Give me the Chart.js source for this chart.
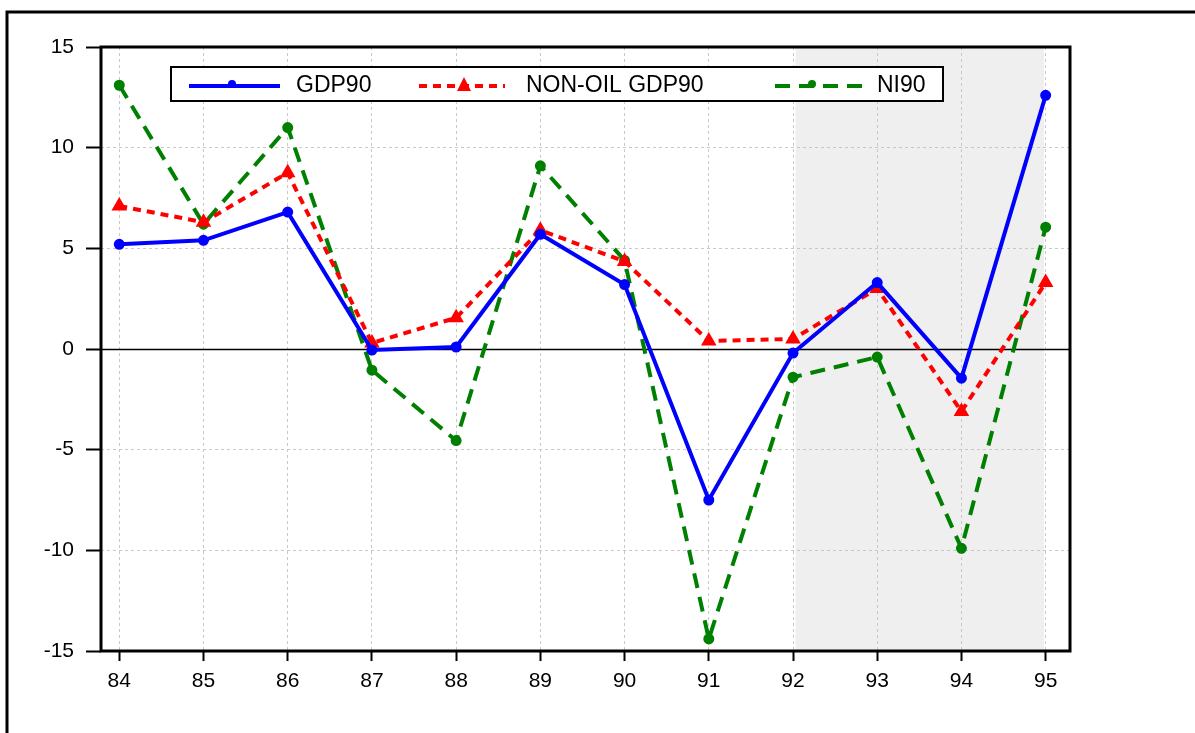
<!DOCTYPE html>
<html>
<head>
<meta charset="utf-8">
<script src="https://cdn.jsdelivr.net/npm/chart.js@4.4.0/dist/chart.umd.min.js"></script>
<style>
  html, body { margin: 0; padding: 0; background: #fff; }
  canvas { display: block; }
</style>
</head>
<body>
<canvas id="chart" width="1195" height="733"></canvas>
<script>
// years (19xx) and growth rates
const years = [84, 85, 86, 87, 88, 89, 90, 91, 92, 93, 94, 95]
const gdp90 = [5.2, 5.4, 6.8, -0.05, 0.1, 5.7, 3.2, -7.5, -0.2, 3.3, -1.45, 12.6]
const nonOilGdp90 = [7.1, 6.3, 8.75, 0.3, 1.55, 5.9, 4.35, 0.4, 0.5, 3.0, -3.1, 3.3]
const ni90 = [13.1, 6.2, 11.0, -1.05, -4.55, 9.1, 4.4, -14.4, -1.4, -0.4, -9.9, 6.05]
const yTicks = [-15, -10, -5, 0, 5, 10, 15]
const shadeFrom = 92.03
const shadeTo = 94.98

const FONT = '"Liberation Sans", Arial, sans-serif'

const points = arr => years.map((yr, i) => ({ x: yr, y: arr[i] }))

const legendItems = [
  { text: "GDP90", color: "#0000ff", dash: [], style: "circle", x0: 189, x1: 280, mx: 232, tx: 296 },
  { text: "NON-OIL GDP90", color: "#ff0000", dash: [8, 6], style: "triangle", x0: 419, x1: 505, mx: 464, tx: 526 },
  { text: "NI90", color: "#008000", dash: [15, 9], style: "circle", x0: 775, x1: 862, mx: 812, tx: 877 }
]

const decor = {
  id: "decor",
  beforeDraw(chart) {
    const { ctx, chartArea: a, scales: { x } } = chart
    ctx.save()
    ctx.fillStyle = "#efefef"
    const l = x.getPixelForValue(shadeFrom), r = x.getPixelForValue(shadeTo)
    ctx.fillRect(l, a.top, r - l, a.bottom - a.top)
    ctx.restore()
  },
  beforeDatasetsDraw(chart) {
    const { ctx, chartArea: a, scales: { y } } = chart
    const y0 = Math.round(y.getPixelForValue(0)) + 0.5
    ctx.save()
    ctx.strokeStyle = "#000"
    ctx.lineWidth = 1.5
    ctx.beginPath()
    ctx.moveTo(a.left, y0)
    ctx.lineTo(a.right, y0)
    ctx.stroke()
    ctx.restore()
  },
  afterDatasetsDraw(chart) {
    const { ctx, chartArea: a } = chart
    ctx.save()
    // plot frame
    ctx.strokeStyle = "#000"
    ctx.lineWidth = 3
    ctx.strokeRect(a.left, a.top, a.right - a.left, a.bottom - a.top)

    // outer frame
    ctx.beginPath()
    ctx.moveTo(7, 733)
    ctx.lineTo(7, 12)
    ctx.lineTo(1195, 12)
    ctx.stroke()

    // legend
    ctx.fillStyle = "#fff"
    ctx.fillRect(171, 67, 772, 34)
    ctx.lineWidth = 2
    ctx.strokeRect(171, 67, 772, 34)
    const ly = 86
    legendItems.forEach(it => {
      ctx.strokeStyle = it.color
      ctx.fillStyle = it.color
      ctx.lineWidth = 4
      ctx.setLineDash(it.dash)
      ctx.beginPath()
      ctx.moveTo(it.x0, ly)
      ctx.lineTo(it.x1, ly)
      ctx.stroke()
      ctx.setLineDash([])
      ctx.beginPath()
      if (it.style === "triangle") {
        ctx.moveTo(it.mx, ly - 9)
        ctx.lineTo(it.mx + 7, ly + 5)
        ctx.lineTo(it.mx - 7, ly + 5)
        ctx.closePath()
      } else {
        ctx.arc(it.mx, ly - 2, 4, 0, Math.PI * 2)
      }
      ctx.fill()
      ctx.fillStyle = "#000"
      ctx.font = "23px " + FONT
      ctx.textBaseline = "middle"
      ctx.fillText(it.text, it.tx, ly)
    })
    ctx.restore()
  }
}

new Chart(document.getElementById("chart"), {
  type: "line",
  data: {
    datasets: [
      {
        label: "GDP90",
        data: points(gdp90),
        borderColor: "#0000ff",
        backgroundColor: "#0000ff",
        borderWidth: 4,
        pointRadius: 3.5,
        pointStyle: "circle",
        tension: 0
      },
      {
        label: "NON-OIL GDP90",
        data: points(nonOilGdp90),
        borderColor: "#ff0000",
        backgroundColor: "#ff0000",
        borderWidth: 4,
        borderDash: [8, 6],
        pointRadius: 7,
        pointStyle: "triangle",
        pointBorderWidth: 2,
        tension: 0
      },
      {
        label: "NI90",
        data: points(ni90),
        borderColor: "#008000",
        backgroundColor: "#008000",
        borderWidth: 4,
        borderDash: [15, 9],
        pointRadius: 3.5,
        pointStyle: "circle",
        tension: 0
      }
    ]
  },
  options: {
    responsive: false,
    animation: false,
    devicePixelRatio: 1,
    layout: { padding: { left: 0, top: 47, right: 125, bottom: 0 } },
    plugins: { legend: { display: false }, tooltip: { enabled: false } },
    elements: { point: { hoverRadius: 4 } },
    scales: {
      x: {
        type: "linear",
        min: 83.783,
        max: 95.289,
        afterBuildTicks: s => { s.ticks = years.map(v => ({ value: v })) },
        afterFit: s => { s.height = 82 },
        ticks: {
          color: "#000",
          font: { family: FONT, size: 21 },
          padding: 8,
          maxRotation: 0,
          autoSkip: false,
          callback: v => String(v)
        },
        grid: {
          color: "#c8c8c8",
          lineWidth: 1,
          tickColor: "#000",
          tickWidth: 2,
          tickLength: 10
        },
        border: { display: false, dash: [3, 3] }
      },
      y: {
        min: -15,
        max: 15,
        afterBuildTicks: s => { s.ticks = yTicks.map(v => ({ value: v })) },
        afterFit: s => { s.width = 101 },
        ticks: {
          color: "#000",
          font: { family: FONT, size: 21 },
          padding: 12,
          callback: v => String(v)
        },
        grid: {
          color: "#c8c8c8",
          lineWidth: 1,
          tickColor: "#000",
          tickWidth: 2,
          tickLength: 15
        },
        border: { display: false, dash: [3, 3] }
      }
    }
  },
  plugins: [decor]
})
</script>
</body>
</html>
